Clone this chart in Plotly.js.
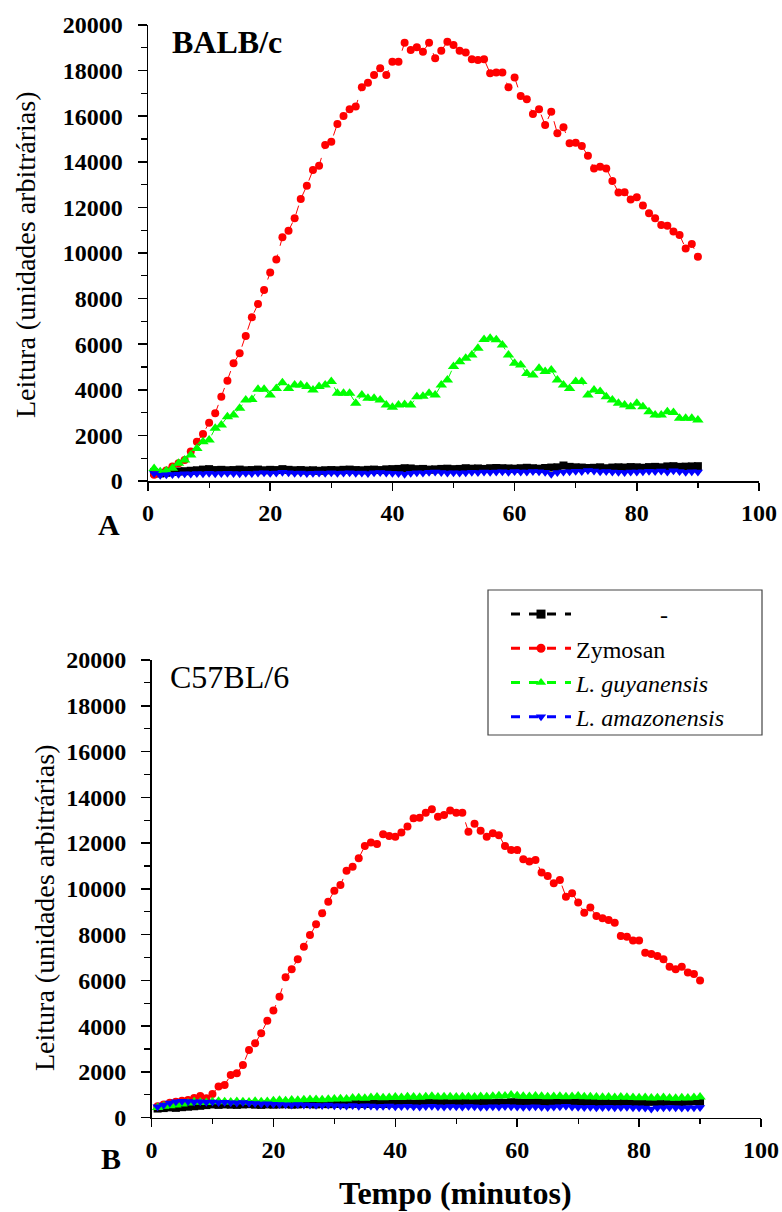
<!DOCTYPE html>
<html>
<head>
<meta charset="utf-8">
<script src="https://cdn.plot.ly/plotly-3.0.1.min.js"></script>
<style>
html,body{margin:0;padding:0;background:#fff;}
#chart{width:782px;height:1212px;}
</style>
</head>
<body>
<div id="chart"></div>
<script>
// ---- data (minutes 1..90) ----
const minutes = Array.from({length: 90}, (_, i) => i + 1);

const seriesNames = ["\u00a0\u00a0\u00a0\u00a0\u00a0\u00a0\u00a0\u00a0\u00a0\u00a0\u00a0\u00a0\u00a0\u00a0-", "Zymosan", "<i>L. guyanensis</i>", "<i>L. amazonensis</i>"];
const panelLabels = ["BALB/c", "C57BL/6"];

// Panel A: BALB/c
const balbControl = [380,330,360,400,420,430,450,470,500,520,
  480,490,470,480,500,470,480,500,470,490,
  480,520,490,470,480,460,470,450,470,480,
  470,490,500,480,470,490,500,480,510,520,
  530,560,550,520,530,500,510,530,540,520,
  530,560,540,550,530,560,570,560,550,540,
  560,580,560,540,570,590,600,680,620,600,
  590,570,580,600,560,590,600,590,610,600,
  580,610,620,600,640,650,620,630,640,650];
const balbZymosan = [270,350,460,640,780,920,1290,1720,2060,2560,
  2970,3700,4400,5160,5600,6360,7180,7760,8380,9150,
  9720,10690,10980,11520,12370,12950,13640,13830,14740,14880,
  15660,16010,16300,16420,17270,17470,17810,18100,17810,18390,
  18390,19220,18900,19020,18830,19220,18540,18870,19270,19120,
  18870,18790,18500,18470,18500,17880,17920,17920,17270,17700,
  16890,16740,16100,16300,15610,16200,15250,15510,14810,14840,
  14690,14270,13710,13780,13710,13160,12650,12660,12350,12440,
  12080,11740,11520,11230,11200,10940,10790,10200,10400,9840];
const balbGuyanensis = [550,410,450,560,780,920,1140,1430,1720,1800,
  2310,2460,2820,2900,3190,3550,3580,4020,4020,3770,
  4060,4310,4060,4210,4210,4140,3990,4140,4210,4360,
  3850,3850,3850,3410,3770,3630,3630,3550,3330,3230,
  3330,3350,3330,3700,3720,3850,3770,4210,4430,5020,
  5230,5380,5530,5820,6210,6260,6190,5970,5530,5160,
  5090,4720,4650,4940,4800,4870,4430,4210,4060,4360,
  4360,3770,3990,3920,3700,3550,3410,3330,3260,3410,
  3260,3040,2900,2900,3040,3000,2750,2750,2750,2680];
const balbAmazonensis = [330,250,270,290,300,320,310,330,320,340,
  320,330,340,330,320,340,330,350,360,340,
  350,380,360,340,350,330,340,350,340,360,
  340,350,360,340,350,330,360,370,350,340,
  330,300,340,360,350,380,400,370,350,360,
  350,360,380,370,390,380,400,410,380,420,
  400,390,420,410,380,300,370,400,410,430,
  420,460,440,410,420,400,380,370,400,390,
  410,430,420,440,400,450,420,380,410,400];

// Panel B: C57BL/6
const c57Control = [400,420,450,430,460,480,500,520,550,580,
  560,580,570,560,580,590,570,560,580,570,
  580,590,570,580,600,590,580,600,590,610,
  600,590,610,620,600,610,620,600,630,620,
  640,630,620,650,640,660,650,640,630,650,
  660,640,650,670,650,640,660,650,680,670,
  660,650,670,660,680,670,660,680,700,670,
  660,680,670,660,680,690,670,660,680,670,
  680,690,670,680,700,690,680,700,720,700];
const c57Zymosan = [500,580,650,700,740,770,860,950,850,1040,
  1360,1430,1870,1940,2300,2960,3250,3690,4240,4680,
  5290,6140,6490,6920,7470,7980,8450,8930,9440,9920,
  10170,10790,10970,11340,11870,12020,11960,12390,12310,12280,
  12460,12720,13080,13110,13330,13480,13150,13230,13420,13330,
  13330,12500,12840,12540,12280,12430,12340,11870,11700,11700,
  11290,11190,11260,10710,10560,10240,10390,9660,9810,9400,
  8960,9190,8810,8710,8640,8520,7940,7910,7740,7740,
  7210,7150,7070,6920,6600,6490,6600,6340,6280,5990];
const c57Guyanensis = [450,500,520,560,600,640,700,680,660,700,
  720,700,690,710,700,690,720,700,710,740,
  760,740,770,760,780,790,800,780,810,820,
  830,820,860,870,850,880,900,870,880,900,
  880,910,900,890,920,940,900,910,920,900,
  920,910,900,930,920,940,960,950,990,960,
  940,930,950,940,920,930,940,910,930,950,
  920,910,900,890,900,880,900,890,880,870,
  880,860,870,880,860,850,870,860,880,900];
const c57Amazonensis = [480,560,640,700,720,710,690,700,680,690,
  660,680,650,640,660,630,620,600,610,590,
  580,570,560,580,550,560,540,530,550,520,
  520,510,530,500,520,510,490,500,510,480,
  490,500,480,470,490,500,480,470,490,480,
  470,490,480,460,470,480,470,490,480,470,
  460,470,480,460,450,470,480,500,470,460,
  450,460,440,450,460,440,450,460,430,440,
  420,380,430,440,450,430,420,440,430,450];

const xTicks = [0, 20, 40, 60, 80, 100];
const xTickText = ["0", "20", "40", "60", "80", "100"];
const yTicks = [0, 2000, 4000, 6000, 8000, 10000, 12000, 14000, 16000, 18000, 20000];
const yTickText = ["0", "2000", "4000", "6000", "8000", "10000", "12000", "14000", "16000", "18000", "20000"];

// ---- styles ----
const SERIF = "Liberation Serif";
const colors = ["#000000", "#ff0000", "#00ff00", "#0000ff"];
const symbols = ["square", "circle", "triangle-up", "triangle-down"];
const msizes = [8, 8, 10, 9];

function panelTraces(vals, xa, ya) {
  return vals.map((v, i) => ({
    type: "scatter", mode: "lines+markers",
    x: minutes, y: v, xaxis: xa, yaxis: ya,
    name: seriesNames[i], showlegend: false, cliponaxis: false,
    line: {color: colors[i], width: 1, dash: "dash"},
    marker: {color: colors[i], symbol: symbols[i], size: msizes[i], line: {width: 0}}
  }));
}
const legendTraces = seriesNames.map((n, i) => ({
  type: "scatter", mode: "lines+markers", x: [null], y: [null],
  xaxis: "x2", yaxis: "y2", name: n, showlegend: true,
  line: {color: colors[i], width: 3, dash: "dash"},
  marker: {color: colors[i], symbol: symbols[i], size: 9}
}));

const traces = [
  ...panelTraces([balbControl, balbZymosan, balbGuyanensis, balbAmazonensis], "x", "y"),
  ...panelTraces([c57Control, c57Zymosan, c57Guyanensis, c57Amazonensis], "x2", "y2"),
  ...legendTraces
];

const W = 782, H = 1212;
const tickFont = {family: SERIF, size: 24, weight: "bold", color: "#000"};
function xAxis(x0, x1, anchor) {
  return {domain: [x0 / W, x1 / W], range: [0, 100], anchor: anchor,
    tickmode: "array", tickvals: xTicks, ticktext: xTickText, showgrid: false, zeroline: false, showline: true,
    linecolor: "#000", linewidth: 1.5, ticks: "outside", ticklen: 8, tickwidth: 1.5, tickcolor: "#000",
    minor: {dtick: 10, ticks: "outside", ticklen: 5, tickwidth: 1.2, tickcolor: "#000", showgrid: false},
    tickfont: tickFont, ticklabelstandoff: 2, fixedrange: true};
}
function yAxis(ytop, ybot, anchor) {
  return {domain: [1 - ybot / H, 1 - ytop / H], range: [0, 20000], anchor: anchor,
    tickmode: "array", tickvals: yTicks, ticktext: yTickText, showgrid: false, zeroline: false, showline: true,
    linecolor: "#000", linewidth: 1.5, ticks: "outside", ticklen: 9, tickwidth: 1.5, tickcolor: "#000",
    minor: {dtick: 1000, ticks: "outside", ticklen: 6, tickwidth: 1.2, tickcolor: "#000", showgrid: false},
    tickfont: tickFont, ticklabelstandoff: 10, fixedrange: true};
}

function ann(text, px, py, opts) {
  return Object.assign({text: text, x: px / W, y: 1 - py / H, xref: "paper", yref: "paper",
    showarrow: false, xanchor: "center", yanchor: "middle",
    font: {family: SERIF, size: 28, color: "#000"}}, opts || {});
}

const layout = {
  width: W, height: H, autosize: false,
  margin: {l: 0, r: 0, t: 0, b: 0},
  paper_bgcolor: "#fff", plot_bgcolor: "#fff",
  font: {family: SERIF, color: "#000"},
  xaxis: xAxis(148, 759, "y"),
  yaxis: yAxis(25, 481, "x"),
  xaxis2: xAxis(151.5, 761, "y2"),
  yaxis2: yAxis(660, 1117.7, "x2"),
  showlegend: true,
  legend: {x: 506 / W, y: 1 - 592 / H, xanchor: "left", yanchor: "top",
    bgcolor: "rgba(0,0,0,0)", borderwidth: 0,
    font: {family: SERIF, size: 24, color: "#000"},
    itemwidth: 60, tracegroupgap: 0},
  shapes: [
    {type: "rect", xref: "paper", yref: "paper", x0: 488 / W, x1: 762 / W, y0: 1 - 735 / H, y1: 1 - 590 / H,
     line: {color: "#444", width: 1.2}, fillcolor: "rgba(255,255,255,0)", layer: "below"}
  ],
  annotations: [
    ann(panelLabels[0], 170, 42, {xanchor: "left", font: {family: SERIF, size: 32, weight: "bold", color: "#000"}}),
    ann(panelLabels[1], 168, 677, {xanchor: "left", font: {family: SERIF, size: 32, color: "#000"}}),
    ann("A", 109, 525, {font: {family: SERIF, size: 30, weight: "bold", color: "#000"}}),
    ann("B", 111, 1158, {font: {family: SERIF, size: 30, weight: "bold", color: "#000"}}),
    ann("Leitura (unidades arbitrárias)", 26, 255, {textangle: -90}),
    ann("Leitura (unidades arbitrárias)", 44, 908, {textangle: -90}),
    ann("Tempo (minutos)", 455, 1193, {font: {family: SERIF, size: 32, weight: "bold", color: "#000"}})
  ]
};

Plotly.newPlot("chart", traces, layout, {displayModeBar: false, staticPlot: true});
</script>
</body>
</html>
